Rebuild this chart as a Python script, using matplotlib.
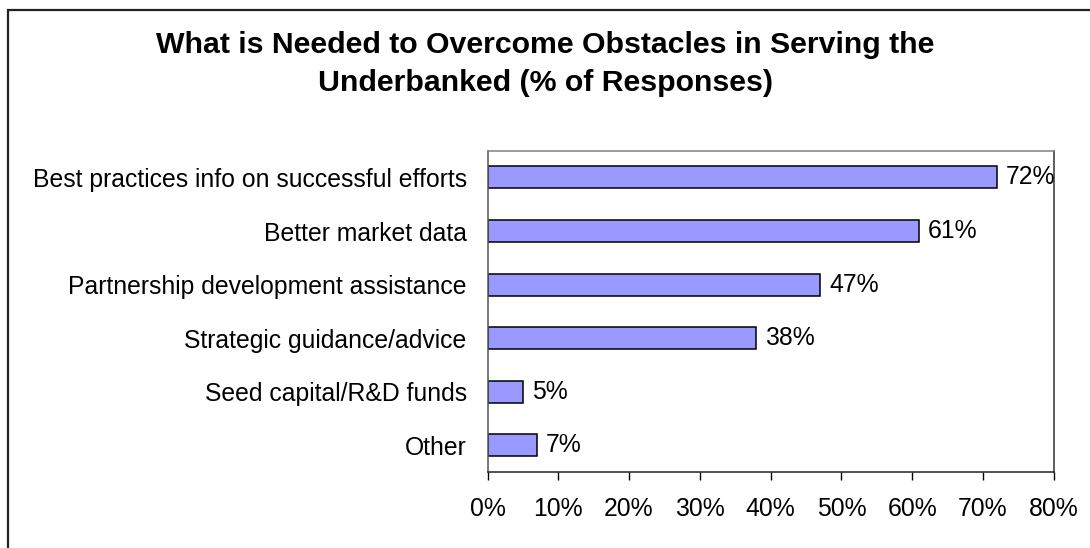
import matplotlib
matplotlib.use("Agg")
import matplotlib.pyplot as plt
from matplotlib.patches import Rectangle

categories = [
    "Best practices info on successful efforts",
    "Better market data",
    "Partnership development assistance",
    "Strategic guidance/advice",
    "Seed capital/R&D funds",
    "Other",
]
values = [72, 61, 47, 38, 5, 7]
x_ticks = [0, 10, 20, 30, 40, 50, 60, 70, 80]
x_tick_labels = [f"{t}%" for t in x_ticks]
title = "What is Needed to Overcome Obstacles in Serving the\nUnderbanked (% of Responses)"

plt.rcParams["font.family"] = ["Liberation Sans", "DejaVu Sans"]

W, H = 1090, 548
fig = plt.figure(figsize=(W / 100, H / 100), dpi=100)

# outer chart border (open to the right and bottom)
fig.patches.append(Rectangle((7.5 / W, -0.1), 1.2, 1.1 - 9.5 / H,
                             transform=fig.transFigure, fill=False,
                             edgecolor="#222222", linewidth=1.6))

left, right, top, bottom = 487.5, 1053.7, 150.7, 472.0
ax = fig.add_axes([left / W, (H - bottom) / H, (right - left) / W, (bottom - top) / H])

fs = 17.8
ypos = list(range(len(categories)))
ax.barh(ypos, values, height=0.41, color="#9999FF", edgecolor="black", linewidth=1.1)
for y, v in zip(ypos, values):
    ax.text(v + 1.25, y, f"{v}%", va="center", ha="left", fontsize=fs, color="black")

ax.set_xlim(0, 80)
ax.set_ylim(len(categories) - 0.5, -0.5)
ax.set_xticks(x_ticks)
ax.set_xticklabels(x_tick_labels, fontsize=fs)
ax.set_yticks(ypos)
ax.set_yticklabels(categories, fontsize=fs)
ax.tick_params(axis="x", length=6, width=1, pad=12, color="black")
ax.tick_params(axis="y", length=0, pad=15)

ax.spines["top"].set_color("#808080")
ax.spines["right"].set_color("#333333")
ax.spines["left"].set_color("#555555")
ax.spines["bottom"].set_color("#222222")
for s in ax.spines.values():
    s.set_linewidth(1.1)

fig.text(545 / W, 1 - 31 / H, title, ha="center", va="top", fontsize=21.8,
         fontweight="bold", linespacing=1.45)

fig.savefig("out.png", dpi=100)
